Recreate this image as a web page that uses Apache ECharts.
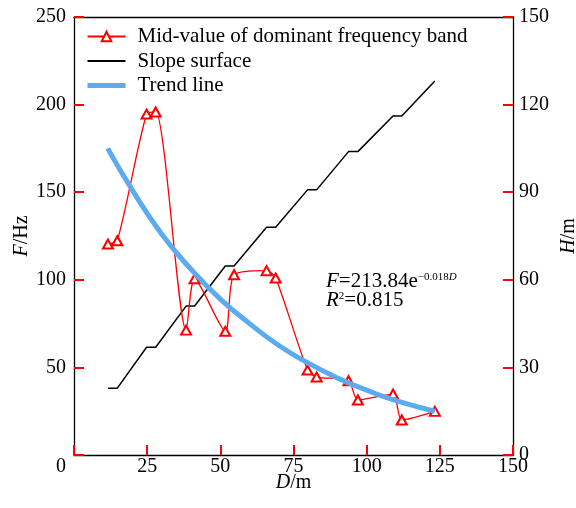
<!DOCTYPE html>
<html lang="en">
<head>
    <meta charset="UTF-8">
    <title>Dominant frequency vs distance</title>
    <script src="https://cdn.jsdelivr.net/npm/echarts@6/dist/echarts.min.js"></script>
    <style>
        html, body { margin: 0; padding: 0; background: #fff; }
        #chart { width: 576px; height: 508px; }
    </style>
</head>
<body>
    <div id="chart"></div>
    <script>
        // distance along the slope (m), shared by both measured series
        const distance = [11.6, 14.8, 24.8, 27.9, 38.3, 41.2, 51.7, 54.7, 65.8, 68.9, 79.8, 82.9, 93.8, 97.0, 109.0, 112.0, 123.3];
        // mid-value of dominant frequency band (Hz)
        const midFreq = [120.4, 122.3, 194.6, 195.8, 71.3, 100.6, 70.6, 102.9, 105.2, 101.0, 48.5, 44.5, 42.4, 31.4, 34.8, 20.0, 24.9];
        // slope surface height (m)
        const slopeH = [22.9, 22.9, 36.9, 36.9, 51.0, 51.0, 64.7, 64.7, 78.0, 78.0, 90.8, 90.8, 103.9, 103.9, 116.1, 116.1, 128.1];
        // trend line
        const trendD = [11.5, 20, 30, 40, 50, 60, 70, 80, 90, 100, 110, 123.3];
        const trendF = [175, 151, 126, 106, 89, 75, 62.5, 52.5, 44, 37, 31, 25];

        const xTicks = { min: 0, max: 150, interval: 25 };
        const fTicks = { min: 0, max: 250, interval: 50 };
        const hTicks = { min: 0, max: 150, interval: 30 };

        const names = ['Mid-value of dominant frequency band', 'Slope surface', 'Trend line'];

        const FONT = '"Liberation Serif", "Times New Roman", serif';
        const BLUE = '#5cabf0';
        const zip = (a, b) => a.map((v, i) => [v, b[i]]);

        const labelStyle = { color: '#000', fontSize: 20, fontFamily: FONT };
        const nameStyle = {
            color: '#000', fontSize: 20, fontFamily: FONT,
            rich: { i: { fontStyle: 'italic', fontSize: 20, fontFamily: FONT, color: '#000' } }
        };
        const axisLine = () => ({ show: true, onZero: false, lineStyle: { color: '#000', width: 1.3 } });
        const axisTick = () => ({ show: true, inside: true, length: 10, lineStyle: { color: '#f00', width: 2 } });

        const chart = echarts.init(document.getElementById('chart'));
        const option = {
            animation: false,
            grid: {
                left: 74, right: 63, top: 17, bottom: 53,
                outerBoundsMode: 'none',
                containLabel: false
            },
            legend: {
                data: [
                    { name: names[0] },
                    { name: names[1], itemStyle: { opacity: 0 } },
                    { name: names[2], itemStyle: { opacity: 0 }, lineStyle: { color: BLUE, width: 5 } }
                ],
                orient: 'vertical',
                left: 80, top: 21,
                itemWidth: 38, itemHeight: 12, itemGap: 3.5,
                textStyle: { color: '#000', fontSize: 21, fontFamily: FONT, lineHeight: 21, padding: [0, 0, 0, 7] }
            },
            xAxis: [{
                type: 'value', position: 'bottom',
                min: xTicks.min, max: xTicks.max, interval: xTicks.interval,
                name: '{i|D}/m', nameLocation: 'middle', nameGap: 18, nameMoveOverlap: false,
                nameTextStyle: nameStyle,
                axisLine: axisLine(), axisTick: axisTick(),
                splitLine: { show: false },
                axisLabel: Object.assign({}, labelStyle, {
                    margin: 2,
                    formatter: v => v === 0 ? '{z|0}' : String(v),
                    rich: { z: { fontSize: 20, fontFamily: FONT, color: '#000', padding: [0, 26, 0, 0] } }
                })
            }, {
                // top frame line only
                type: 'value', position: 'top',
                min: xTicks.min, max: xTicks.max, interval: xTicks.interval,
                axisLine: axisLine(),
                axisTick: { show: false },
                axisLabel: { show: false },
                splitLine: { show: false }
            }],
            yAxis: [{
                type: 'value', position: 'left',
                min: fTicks.min, max: fTicks.max, interval: fTicks.interval,
                name: '{i|F}/Hz', nameLocation: 'middle', nameGap: 42, nameRotate: 90, nameMoveOverlap: false,
                nameTextStyle: nameStyle,
                axisLine: axisLine(), axisTick: axisTick(),
                splitLine: { show: false },
                axisLabel: Object.assign({}, labelStyle, {
                    margin: 8,
                    // the zero label is shared with the x axis one
                    formatter: v => v === 0 ? '' : String(v)
                })
            }, {
                type: 'value', position: 'right',
                min: hTicks.min, max: hTicks.max, interval: hTicks.interval,
                name: '{i|H}/m', nameLocation: 'middle', nameGap: 46, nameRotate: 90, nameMoveOverlap: false,
                nameTextStyle: nameStyle,
                axisLine: axisLine(), axisTick: axisTick(),
                splitLine: { show: false },
                axisLabel: Object.assign({}, labelStyle, { margin: 6 })
            }],
            series: [{
                name: names[1],
                type: 'line',
                yAxisIndex: 1,
                data: zip(distance, slopeH),
                symbol: 'none',
                lineStyle: { color: '#000', width: 1.5 },
                itemStyle: { color: '#000' },
                z: 2
            }, {
                name: names[0],
                type: 'line',
                yAxisIndex: 0,
                data: zip(distance, midFreq),
                smooth: 0.25,
                smoothConstraint: false,
                symbol: 'emptyTriangle',
                symbolSize: [10, 9],
                lineStyle: { color: '#ff0000', width: 1.3 },
                itemStyle: { color: '#ff0000', borderColor: '#ff0000', borderWidth: 1.3 },
                z: 3
            }, {
                name: names[2],
                type: 'line',
                yAxisIndex: 0,
                data: zip(trendD, trendF),
                smooth: true,
                symbol: 'none',
                lineStyle: { color: BLUE, width: 5 },
                itemStyle: { color: BLUE },
                z: 4
            }],
            graphic: [{
                type: 'text',
                left: 326, top: 271,
                style: {
                    text: '{i|F}{n|=213.84e}{s|−0.018}{si|D}\n{i|R}{s|2}{n|=0.815}',
                    fill: '#000',
                    font: '21px ' + FONT,
                    lineHeight: 19,
                    rich: {
                        n: { fontSize: 21, fontFamily: FONT, lineHeight: 19 },
                        i: { fontSize: 21, fontFamily: FONT, fontStyle: 'italic', lineHeight: 19 },
                        s: { fontSize: 11, fontFamily: FONT, verticalAlign: 'top', lineHeight: 19, padding: [0, 0, 7, 0] },
                        si: { fontSize: 11, fontFamily: FONT, fontStyle: 'italic', verticalAlign: 'top', lineHeight: 19, padding: [0, 0, 7, 0] }
                    }
                }
            }]
        };
        chart.setOption(option);
    </script>
</body>
</html>
